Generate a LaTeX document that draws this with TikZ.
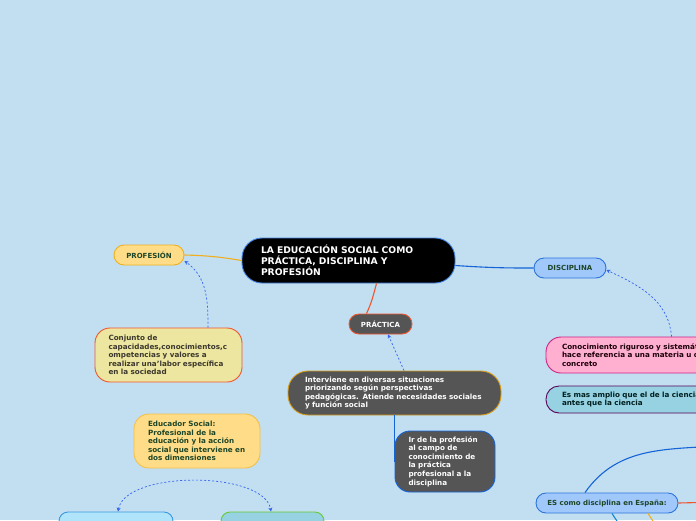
\documentclass[tikz,border=0pt]{standalone}
\usepackage{fontspec}
\setmainfont{DejaVu Sans}
\usepackage{tikz}
\usetikzlibrary{arrows.meta,positioning}
\definecolor{canvas}{RGB}{194,222,241}
\definecolor{textgreen}{RGB}{30,70,40}
\definecolor{blueline}{RGB}{20,100,215}
\definecolor{dashblue}{RGB}{50,100,240}
\definecolor{orangeline}{RGB}{240,176,30}
\definecolor{redline}{RGB}{240,85,45}
\definecolor{darkfill}{RGB}{85,85,85}
\definecolor{peach}{RGB}{255,221,136}
\definecolor{khaki}{RGB}{237,230,160}
\definecolor{skyfill}{RGB}{160,200,250}
\definecolor{pinkfill}{RGB}{255,176,208}
\definecolor{tealfill}{RGB}{150,210,225}
\definecolor{cyanfill}{RGB}{175,228,250}
\tikzset{
  topic/.style={draw,rounded corners=9pt,line width=.9pt,inner sep=0pt,
                font=\bfseries\fontsize{7.2}{8.6}\selectfont,align=left},
  pill/.style={topic,rounded corners=10pt,minimum height=20pt,align=center,
               font=\bfseries\fontsize{7}{8.6}\selectfont,
               text=textgreen,draw=blueline!90,fill=skyfill},
  dark/.style={topic,fill=darkfill,text=white},
  link/.style={line width=1.1pt},
  note/.style={-{Stealth[length=4pt,width=4pt]},draw=dashblue,line width=.7pt,
               dash pattern=on 2pt off 2pt},
}
\begin{document}
\begin{tikzpicture}[x=1pt,y=-1pt]
  \useasboundingbox (0,0) rectangle (696,520);
  \fill[canvas] (0,0) rectangle (696,520);
  \clip (0,0) rectangle (696,520);
  % central topic
  \node[topic,fill=black,text=white,draw=blueline!80,rounded corners=20pt,
        font=\bfseries\fontsize{9.2}{11}\selectfont,
        minimum width=213pt,minimum height=45pt,text width=175pt]
    (main) at (348.5,260.5) {LA EDUCACIÓN SOCIAL COMO\\PRÁCTICA, DISCIPLINA Y\\PROFESIÓN};
  % main branches
  \node[pill,fill=peach,draw=orangeline,minimum width=70pt] (prof) at (149,255) {PROFESIÓN};
  \node[pill,fill=darkfill,text=white,draw=redline,minimum width=63pt] (prac) at (380.5,324) {PRÁCTICA};
  \node[pill,minimum width=72pt] (disc) at (570,268) {DISCIPLINA};
  % notes
  \node[topic,fill=khaki,draw=redline,text=black!60!olive!60!black,rounded corners=15pt,
        minimum width=147pt,minimum height=54pt,text width=120pt]
    (conj) at (168.5,355) {Conjunto de\\capacidades,conocimientos,c\\ompetencias y valores a\\realizar una'labor específica\\en la sociedad};
  \node[dark,draw=orangeline!90!black,rounded corners=20pt,
        minimum width=213pt,minimum height=44pt,text width=179pt]
    (interv) at (394.5,393) {Interviene en diversas situaciones\\priorizando según perspectivas\\pedagógicas. Atiende necesidades sociales\\y función social};
  \node[dark,draw=blueline,rounded corners=15pt,
        minimum width=100pt,minimum height=61pt,text width=73pt]
    (ir) at (445,461.5) {Ir de la profesión\\al campo de\\conocimiento de\\la práctica\\profesional a la\\disciplina};
  \node[topic,fill=pinkfill,draw=magenta!85!black,text=black!70!purple!50!black,rounded corners=15pt,
        minimum width=232pt,minimum height=36pt,text width=200pt]
    (conoc) at (662,355) {Conocimiento riguroso y sistemático que\\hace referencia a una materia u objeto\\concreto};
  \node[topic,fill=tealfill,draw=violet!70!black,text=black!60!teal!60!black,rounded corners=13pt,
        minimum width=232pt,minimum height=27pt,text width=200pt]
    (esmas) at (662,399.5) {Es mas amplio que el de la ciencia,\\antes que la ciencia};
  \node[pill,minimum width=142pt] (es) at (607,503) {ES como disciplina en España:};
  \node[topic,fill=peach,draw=orangeline!80,text=textgreen,rounded corners=15pt,
        minimum width=126pt,minimum height=54pt,text width=98pt]
    (educ) at (197,441) {Educador Social:\\Profesional de la\\educación y la acción\\social que interviene en\\dos dimensiones};
  \node[topic,fill=cyanfill,draw=cyan!70!blue!80,minimum width=114pt,minimum height=36pt] (dimA) at (116,530) {};
  \node[topic,fill=tealfill,draw=green!50!olive!80,minimum width=103pt,minimum height=36pt] (dimB) at (272.5,530) {};
  % connectors
  \coordinate (esup) at (730,445);
  \coordinate (esright) at (720,502);
  \coordinate (esdownA) at (626,535);
  \coordinate (esdownB) at (662,535);
  \draw[link,draw=orangeline] (main.west) to[bend right=4] (prof.east);
  \draw[link,draw=blueline] ([yshift=-5pt]main.east) to[bend right=2] (disc.west);
  \draw[link,draw=redline] ([xshift=28pt]main.south) to[out=-105,in=65] ([xshift=-14pt]prac.north);
  \draw[link,draw=blueline] (interv.south -| ir.west) -- (ir.west);
  \draw[link,draw=blueline] ([xshift=-22pt]es.north) to[out=55,in=185] (esup);
  \draw[link,draw=redline] (es.east) -- (esright);
  \draw[link,draw=cyan!70!blue] ([xshift=5pt]es.south) -- (esdownA);
  \draw[link,draw=orangeline] ([xshift=41pt]es.south) -- (esdownB);
  % dashed notes
  \draw[note] ([xshift=39.5pt]conj.north) to[out=90,in=-35] ([yshift=-6pt]prof.east);
  \draw[note] ([xshift=9.5pt]interv.north) -- ([xshift=7.5pt]prac.south);
  \draw[note] ([xshift=126pt]conoc.north west) to[out=95,in=-25] ([yshift=-2pt]disc.east);
  \draw[note,{Stealth[length=4pt,width=4pt]}-{Stealth[length=4pt,width=4pt]}]
    ([xshift=2pt]dimA.north) to[out=80,in=100,looseness=.7] ([xshift=-1.5pt]dimB.north);
\end{tikzpicture}
\end{document}
